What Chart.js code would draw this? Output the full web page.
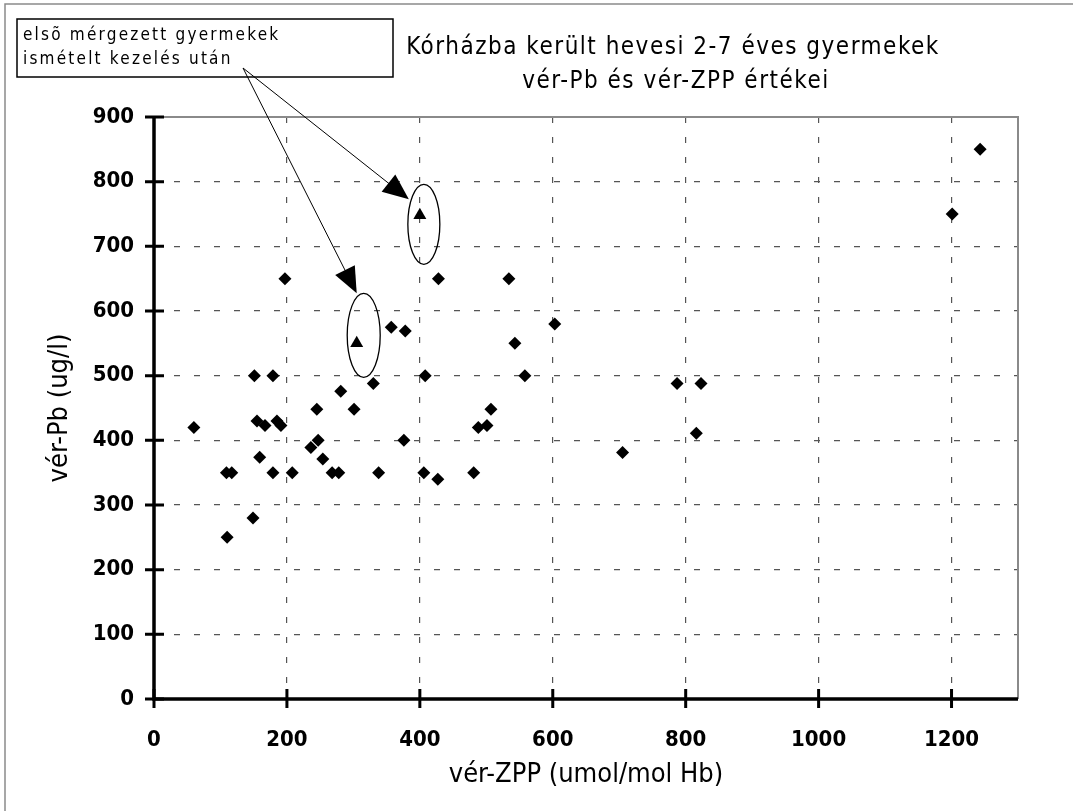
<!DOCTYPE html>
<html>
<head>
<meta charset="utf-8">
<script src="https://cdn.jsdelivr.net/npm/chart.js@4/dist/chart.umd.min.js"></script>
<style>
  html, body { margin: 0; padding: 0; background: #fff; }
</style>
</head>
<body>
<canvas id="chart" width="1073" height="811"></canvas>
<script>
// data
const zpp = [60, 110, 109, 117, 149, 151, 155, 159, 167, 179, 179, 185, 191, 197, 208,
  236, 245, 247, 254, 268, 278, 281, 301, 330, 338, 357, 376, 378, 406, 408, 427, 428,
  481, 488, 501, 507, 534, 543, 558, 603, 705, 787, 816, 823, 1201, 1243];
const pb = [420, 250, 350, 350, 280, 500, 430, 374, 423, 500, 350, 430, 423, 650, 350,
  389, 448, 400, 371, 350, 350, 476, 448, 488, 350, 575, 400, 569, 350, 500, 340, 650,
  350, 420, 423, 448, 650, 550, 500, 580, 381, 488, 411, 488, 750, 850];

// children measured again after repeated treatment
const zppRepeat = [305, 400];
const pbRepeat = [550, 748];

const titleLines = ["Kórházba került hevesi 2-7 éves gyermekek", "vér-Pb és vér-ZPP értékei"];
const noteLines = ["elsõ mérgezett gyermekek", "ismételt kezelés után"];
const xTitle = "vér-ZPP (umol/mol Hb)";
const yTitle = "vér-Pb (ug/l)";

const FONT = '"DejaVu Sans Condensed", "DejaVu Sans", sans-serif';

const points = zpp.map((x, i) => ({ x: x, y: pb[i] }));
const repeatPoints = zppRepeat.map((x, i) => ({ x: x, y: pbRepeat[i] }));

const arrow = (ctx, x0, y0, x1, y1) => {
  const a = Math.atan2(y1 - y0, x1 - x0);
  const len = 26, half = 11;
  ctx.beginPath();
  ctx.moveTo(x0, y0);
  ctx.lineTo(x1 - Math.cos(a) * len * 0.8, y1 - Math.sin(a) * len * 0.8);
  ctx.stroke();
  const bx = x1 - Math.cos(a) * len, by = y1 - Math.sin(a) * len;
  ctx.beginPath();
  ctx.moveTo(x1, y1);
  ctx.lineTo(bx + Math.sin(a) * half, by - Math.cos(a) * half);
  ctx.lineTo(bx - Math.sin(a) * half, by + Math.cos(a) * half);
  ctx.closePath();
  ctx.fill();
};

const decor = {
  id: "decor",
  beforeDraw(chart) {
    const ctx = chart.ctx;
    ctx.save();
    ctx.fillStyle = "#fff";
    ctx.fillRect(0, 0, chart.width, chart.height);
    ctx.restore();
  },
  afterDraw(chart) {
    const ctx = chart.ctx;
    const { left, right, top, bottom } = chart.chartArea;
    const xs = chart.scales.x, ys = chart.scales.y;
    ctx.save();

    // outer frame
    ctx.strokeStyle = "#8a8a8a";
    ctx.lineWidth = 1.5;
    ctx.beginPath();
    ctx.moveTo(5, chart.height);
    ctx.lineTo(5, 4);
    ctx.lineTo(chart.width, 4);
    ctx.stroke();

    // plot box top / right
    ctx.lineWidth = 2;
    ctx.beginPath();
    ctx.moveTo(left, top);
    ctx.lineTo(right, top);
    ctx.lineTo(right, bottom);
    ctx.stroke();

    // axis lines and crossing ticks
    ctx.strokeStyle = "#000";
    ctx.lineWidth = 3.5;
    ctx.beginPath();
    ctx.moveTo(left, top);
    ctx.lineTo(left, bottom);
    ctx.lineTo(right, bottom);
    ctx.stroke();
    ctx.lineWidth = 3;
    ctx.beginPath();
    ys.ticks.forEach(t => {
      const py = ys.getPixelForValue(t.value);
      ctx.moveTo(left - 9, py);
      ctx.lineTo(left + 10, py);
    });
    xs.ticks.forEach(t => {
      const px = xs.getPixelForValue(t.value);
      ctx.moveTo(px, bottom - 10);
      ctx.lineTo(px, bottom + 9);
    });
    ctx.stroke();

    // title
    ctx.fillStyle = "#000";
    ctx.textAlign = "center";
    ctx.textBaseline = "alphabetic";
    ctx.font = "24px " + FONT;
    ctx.letterSpacing = "1.5px";
    ctx.fillText(titleLines[0], 673, 54);
    ctx.fillText(titleLines[1], 676, 88);

    // note box
    ctx.lineWidth = 1.5;
    ctx.strokeRect(17, 19, 376, 58);
    ctx.textAlign = "left";
    ctx.font = "17px " + FONT;
    ctx.letterSpacing = "2.2px";
    ctx.fillText(noteLines[0], 23, 40);
    ctx.fillText(noteLines[1], 23, 64);
    ctx.letterSpacing = "0px";

    // arrows and ellipses around the repeated measurements
    ctx.lineWidth = 1;
    const p1 = { x: xs.getPixelForValue(zppRepeat[1]), y: ys.getPixelForValue(pbRepeat[1]) };
    const p0 = { x: xs.getPixelForValue(zppRepeat[0]), y: ys.getPixelForValue(pbRepeat[0]) };
    arrow(ctx, 243, 68, p1.x - 11, p1.y - 16);
    arrow(ctx, 243, 68, p0.x, p0.y - 50);
    ctx.lineWidth = 1.3;
    ctx.beginPath();
    ctx.ellipse(p1.x + 4, p1.y + 9, 16, 40, 0, 0, Math.PI * 2);
    ctx.stroke();
    ctx.beginPath();
    ctx.ellipse(p0.x + 7, p0.y - 8, 16.5, 42, 0, 0, Math.PI * 2);
    ctx.stroke();

    ctx.restore();
  }
};

const gridDash = [6, 14];
const plainNumber = v => String(v);

new Chart(document.getElementById("chart").getContext("2d"), {
  type: "scatter",
  data: {
    datasets: [
      {
        label: "gyermekek",
        data: points,
        pointStyle: "rectRot",
        pointRadius: 6.5,
        pointHoverRadius: 6.5,
        backgroundColor: "#000",
        borderColor: "#000",
        borderWidth: 0
      },
      {
        label: "ismételt kezelés után",
        data: repeatPoints,
        pointStyle: "triangle",
        pointRadius: 7.5,
        pointHoverRadius: 7.5,
        backgroundColor: "#000",
        borderColor: "#000",
        borderWidth: 0
      }
    ]
  },
  options: {
    responsive: false,
    animation: false,
    events: [],
    layout: { padding: { left: 0, top: 117, right: 55, bottom: 0 } },
    plugins: {
      legend: { display: false },
      title: { display: false },
      tooltip: { enabled: false }
    },
    scales: {
      x: {
        type: "linear",
        min: 0,
        max: 1300,
        afterFit: s => { s.height = 112; },
        ticks: {
          stepSize: 200,
          includeBounds: false,
          padding: 28,
          color: "#000",
          callback: plainNumber,
          font: { family: FONT, size: 22, weight: "bold" }
        },
        grid: { color: "#555", lineWidth: 1.2, drawTicks: false, borderDash: gridDash },
        border: { display: false, dash: gridDash },
        title: {
          display: true,
          text: xTitle,
          color: "#000",
          font: { family: FONT, size: 27 },
          padding: { top: 0, bottom: 20 }
        }
      },
      y: {
        min: 0,
        max: 900,
        afterFit: s => { s.width = 154; },
        ticks: {
          stepSize: 100,
          padding: 20,
          color: "#000",
          callback: plainNumber,
          font: { family: FONT, size: 22, weight: "bold" }
        },
        grid: { color: "#555", lineWidth: 1.2, drawTicks: false, borderDash: gridDash },
        border: { display: false, dash: gridDash },
        title: {
          display: true,
          text: yTitle,
          color: "#000",
          font: { family: FONT, size: 27 },
          padding: { top: 44, bottom: 0 }
        }
      }
    }
  },
  plugins: [decor]
});
</script>
</body>
</html>
